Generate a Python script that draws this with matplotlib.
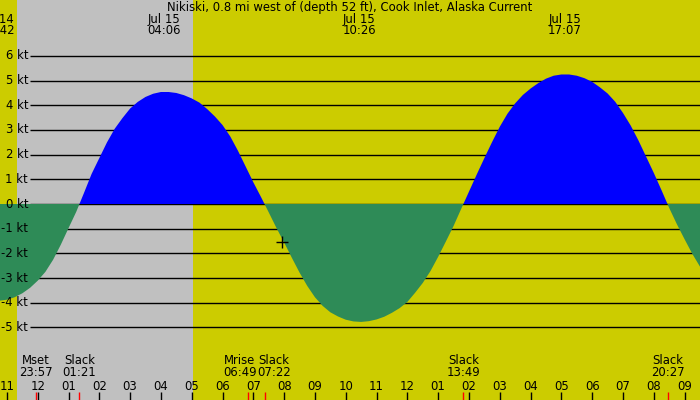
import matplotlib
matplotlib.use('Agg')
import matplotlib.pyplot as plt
import numpy as np

title = "Nikiski, 0.8 mi west of (depth 52 ft), Cook Inlet, Alaska Current"

# hours after midnight Jul 15, current speed in knots
hours = [-1.5, -1.25, -1.0, -0.75, -0.5, -0.25, 0.0, 0.25, 0.5, 0.75, 1.0, 1.25,
         1.5, 1.75, 2.0, 2.25, 2.5, 2.75, 3.0, 3.25, 3.5, 3.75, 4.0, 4.25,
         4.5, 4.75, 5.0, 5.25, 5.5, 5.75, 6.0, 6.25, 6.5, 6.75, 7.0, 7.25,
         7.5, 7.75, 8.0, 8.25, 8.5, 8.75, 9.0, 9.25, 9.5, 9.75, 10.0, 10.25,
         10.5, 10.75, 11.0, 11.25, 11.5, 11.75, 12.0, 12.25, 12.5, 12.75, 13.0, 13.25,
         13.5, 13.75, 14.0, 14.25, 14.5, 14.75, 15.0, 15.25, 15.5, 15.75, 16.0, 16.25,
         16.5, 16.75, 17.0, 17.25, 17.5, 17.75, 18.0, 18.25, 18.5, 18.75, 19.0, 19.25,
         19.5, 19.75, 20.0, 20.25, 20.5, 20.75, 21.0, 21.25, 21.5]
knots = [-3.90, -3.92, -3.88, -3.78, -3.62, -3.40, -3.11, -2.75, -2.26, -1.65, -0.98, -0.32,
         0.44, 1.22, 1.86, 2.50, 3.05, 3.48, 3.87, 4.14, 4.34, 4.47, 4.54, 4.54,
         4.50, 4.41, 4.28, 4.11, 3.85, 3.55, 3.20, 2.74, 2.16, 1.52, 0.88, 0.28,
         -0.34, -0.97, -1.56, -2.18, -2.78, -3.32, -3.78, -4.13, -4.39, -4.56, -4.69, -4.76,
         -4.78, -4.75, -4.68, -4.57, -4.41, -4.22, -3.97, -3.60, -3.20, -2.72, -2.14, -1.52,
         -0.89, -0.19, 0.50, 1.19, 1.86, 2.51, 3.13, 3.66, 4.08, 4.42, 4.68, 4.90,
         5.08, 5.20, 5.25, 5.25, 5.20, 5.10, 4.95, 4.73, 4.48, 4.14, 3.69, 3.18,
         2.58, 1.92, 1.26, 0.56, -0.16, -0.82, -1.43, -2.02, -2.54]

# max flood / ebb labels at the top
peak_hours = [-1.3, 4.1, 10.433, 17.117]
peak_dates = ["Jul 14", "Jul 15", "Jul 15", "Jul 15"]
peak_times = ["22:42", "04:06", "10:26", "17:07"]

# slack and moon events at the bottom
event_hours = [-0.05, 1.35, 6.817, 7.367, 13.817, 20.45]
event_names = ["Mset", "Slack", "Mrise", "Slack", "Slack", "Slack"]
event_times = ["23:57", "01:21", "06:49", "07:22", "13:49", "20:27"]
event_nudge = [0, 0, -8, 9, 0, 0]   # px, keeps Mrise/Slack apart

night = (-0.672, 5.04)   # sunset 23:20, sunrise 05:03
now = (7.93, -1.54)      # crosshair
levels = [6, 5, 4, 3, 2, 1, 0, -1, -2, -3, -4, -5]
hour_ticks = list(range(-1, 22))

W, H = 700, 400
FS = 8.4
fig = plt.figure(figsize=(7, 4), dpi=100)
ax = fig.add_axes([0, 0, 1, 1])
px_kt = 24.67
ax.set_xlim(-1.224, 21.5)
ax.set_ylim(-(H - 204) / px_kt, 204 / px_kt)
ax.set_axis_off()

ax.axvspan(-5, 30, color='#cccc00', lw=0, zorder=0)
ax.axvspan(night[0], night[1], color='#c0c0c0', lw=0, zorder=0.5)

ax.hlines(levels, 30 / W, 1, color='black', lw=1, transform=ax.get_yaxis_transform(), zorder=1)
for lv in levels:
    ax.text(28 / W, lv, "%d kt" % lv, ha='right', va='center', fontsize=FS,
            transform=ax.get_yaxis_transform(), zorder=3)

h = np.array(hours)
k = np.array(knots)
ax.fill_between(h, k, 0, where=k >= 0, interpolate=True, color='#0000ff', lw=0, zorder=2)
ax.fill_between(h, k, 0, where=k <= 0, interpolate=True, color='#2e8b57', lw=0, zorder=2)

ax.plot(now[0], now[1], marker='+', color='black', markersize=9, mew=1, zorder=4)

top = ax.get_xaxis_transform()
ax.text(0.5, 1 - 7 / H, title, ha='center', va='center', fontsize=FS, transform=ax.transAxes)
for t, d, s in zip(peak_hours, peak_dates, peak_times):
    ax.text(t, 1 - 19 / H, d, ha='center', va='center', fontsize=FS, transform=top, clip_on=False)
    ax.text(t, 1 - 31 / H, s, ha='center', va='center', fontsize=FS, transform=top, clip_on=False)

for t, n, s, dx in zip(event_hours, event_names, event_times, event_nudge):
    ax.annotate(n, (t, 1 - 360 / H), xycoords=top, xytext=(dx, 0), textcoords='offset pixels',
                ha='center', va='center', fontsize=FS)
    ax.annotate(s, (t, 1 - 373 / H), xycoords=top, xytext=(dx, 0), textcoords='offset pixels',
                ha='center', va='center', fontsize=FS)

for t in hour_ticks:
    lab = "%02d" % ((t % 12) or 12)
    ax.text(t, 1 - 386 / H, lab, ha='center', va='center', fontsize=FS, transform=top)
ax.vlines(hour_ticks, 0, 8 / H, color='black', lw=1, transform=top, zorder=3)
ax.vlines(event_hours, 0, 8 / H, color='red', lw=1, transform=top, zorder=3)

fig.savefig('out.png', dpi=100)
